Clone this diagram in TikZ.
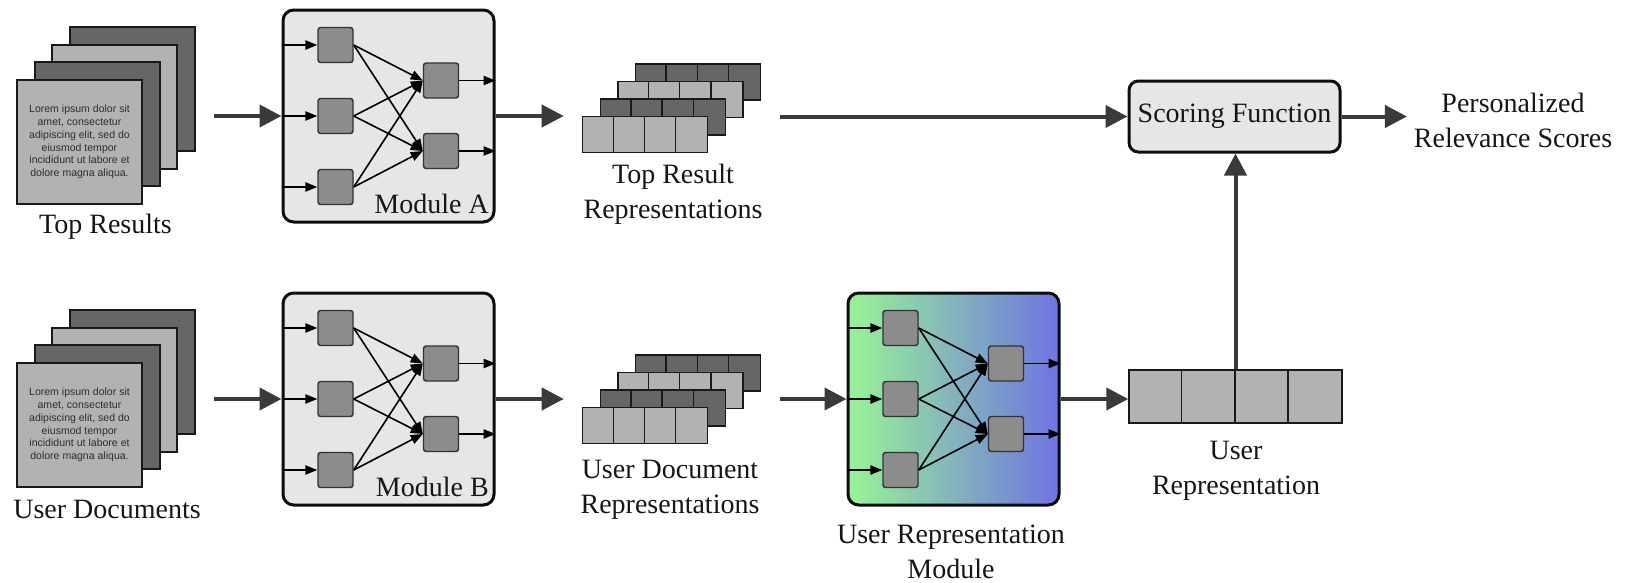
\documentclass[tikz,border=0pt]{standalone}
\usepackage{fontspec}
\setmainfont{Liberation Serif}
\newfontfamily\loremfont{Liberation Sans}
\usetikzlibrary{arrows.meta,calc,fit}

\definecolor{pagelight}{RGB}{178,178,178}
\definecolor{pagedark}{RGB}{102,102,102}
\definecolor{modfill}{RGB}{230,230,230}
\definecolor{unitfill}{RGB}{140,140,140}
\definecolor{flow}{RGB}{58,58,58}
\definecolor{inktext}{RGB}{22,22,22}
\definecolor{loremink}{RGB}{45,45,45}
\definecolor{urmgreen}{RGB}{152,244,150}
\definecolor{urmblue}{RGB}{110,116,226}

\tikzset{
  every node/.style={font=\fontsize{21pt}{26.25pt}\selectfont, text=inktext},
  label text/.style={align=center, inner sep=0pt},
  page/.style={draw=black!90, line width=1.5pt, minimum width=93.75pt,
    minimum height=93pt, inner sep=0pt},
  lorem/.style={align=center, text=loremink,
    font=\loremfont\fontsize{7.9pt}{9.6pt}\selectfont},
  repbar/.style={draw=black!90, line width=1.1pt, minimum width=93.75pt,
    minimum height=27pt, inner sep=0pt},
  repline/.style={draw=black!90, line width=1.1pt},
  modbox/.style={draw=black!95, fill=modfill, line width=2.25pt,
    rounded corners=8pt, minimum width=158.25pt, minimum height=159pt, inner sep=0pt},
  unit/.style={draw=black!80, fill=unitfill, line width=1.1pt, rounded corners=2pt,
    minimum size=26.25pt, inner sep=0pt},
  smallarrow/.style={draw=black, line width=1.2pt, -{Triangle[length=9pt,width=7pt]}},
  flowarrow/.style={draw=flow, line width=3pt, -{Triangle[length=16.5pt,width=16.5pt]}},
  scorebox/.style={draw=black!95, fill=modfill, line width=2.25pt, rounded corners=7pt,
    minimum width=158.25pt, minimum height=53.25pt, inner sep=0pt},
}

% stack of four pages, front page centred at (#2,#3)
\newcommand{\docstack}[3]{%
  \node[page, fill=pagedark]  (#1-4) at (#2+52.8,#3-52.8) {};
  \node[page, fill=pagelight] (#1-3) at (#2+35.2,#3-35.2) {};
  \node[page, fill=pagedark]  (#1-2) at (#2+17.6,#3-17.6) {};
  \node[page, fill=pagelight, lorem] (#1) at (#2,#3)
    {Lorem ipsum dolor sit\\amet, consectetur\\adipiscing elit, sed do\\eiusmod tempor\\incididunt ut labore et\\dolore magna aliqua.};
}

% stack of four vectors of four cells, front row top-left corner at (#2,#3)
\newcommand{\repstack}[3]{%
  \foreach \i/\c in {3/pagedark,2/pagelight,1/pagedark,0/pagelight} {
    \node[repbar, fill=\c, anchor=north west] (#1-r\i) at (#2+17.6*\i,#3-17.6*\i) {};
    \foreach \k in {1,2,3}
      \draw[repline] ($(#1-r\i.north west)+(31.25*\k,0)$) -- ++(0,36);
  }
  \node[fit=(#1-r0)(#1-r3), inner sep=0pt] (#1) {};
}

% small feed-forward network inside a rounded box centred at (#2,#3)
\newcommand{\netmodule}[4]{%
  \node[modbox,#4] (#1) at (#2,#3) {};
  \foreach \j/\dy in {1/-71,2/0,3/71} {
    \node[unit] (#1-l\j) at (#2-53,#3+\dy) {};
    \draw[smallarrow] (#1.west |- #1-l\j) -- (#1-l\j.west);
  }
  \foreach \j/\dy in {1/-35.5,2/35} {
    \node[unit] (#1-r\j) at (#2+52.5,#3+\dy) {};
    \draw[smallarrow] (#1-r\j.east) -- (#1.east |- #1-r\j);
  }
  \foreach \a in {1,2,3}
    \foreach \b in {1,2}
      \draw[smallarrow] (#1-l\a.east) -- (#1-r\b.west);
}

\begin{document}
\begin{tikzpicture}[x=0.75pt,y=-0.75pt]
  \fill[white] (0,0) rectangle (1628,582);
  \useasboundingbox (0,0) rectangle (1628,582);

  % ---- upper branch: top results
  \docstack{topdocs}{79.5}{142}
  \node[label text] at (105.5,227) {Top Results};

  \netmodule{modA}{388.5}{116}{}
  \node[anchor=base east, inner sep=0pt] at (489,213) {Module A};

  \repstack{topreps}{582}{116}
  \node[label text] at (673,194.5) {Top Result\\Representations};

  \node[scorebox] (scoring) at (1234.5,116.5) {Scoring Function};
  \node[label text] (pers) at (1513,120.5) {Personalized\\Relevance Scores};

  % ---- lower branch: user documents
  \docstack{userdocs}{79.5}{425}
  \node[label text] at (107,509) {User Documents};

  \netmodule{modB}{388.5}{399}{}
  \node[anchor=base east, inner sep=0pt] at (489,496) {Module B};

  \repstack{userreps}{582}{407}
  \node[label text] at (670,489.5) {User Document\\Representations};

  \netmodule{urm}{953.5}{399}{left color=urmgreen, right color=urmblue}
  \node[label text] at (951,551.5) {User Representation\\Module};

  \node[repbar, fill=pagelight, minimum width=159.75pt, minimum height=39.75pt]
    (urep) at (1235.5,396.5) {};
  \foreach \k in {1,2,3}
    \draw[repline] ($(urep.north west)+(53.25*\k,0)$) -- ++(0,53);
  \node[label text] at (1236,470.5) {User\\Representation};

  % ---- data flow
  \draw[flowarrow, shorten <=13.5pt] (topdocs-4.east |- modA.west) -- (modA.west);
  \draw[flowarrow, shorten >=13.5pt] (modA.east) -- (modA.east -| topreps.west);
  \draw[flowarrow, shorten <=13.5pt] (scoring.west -| topreps.east) -- (scoring.west);
  \draw[flowarrow, shorten >=5pt] (scoring.east) -- (scoring.east -| pers.west);

  \draw[flowarrow, shorten <=13.5pt] (userdocs-4.east |- modB.west) -- (modB.west);
  \draw[flowarrow, shorten >=13.5pt] (modB.east) -- (modB.east -| userreps.west);
  \draw[flowarrow, shorten <=13.5pt] (urm.west -| userreps.east) -- (urm.west);
  \draw[flowarrow] (urm.east) -- (urm.east -| urep.west);
  \draw[flowarrow] (urep.north) -- (urep.north |- scoring.south);
\end{tikzpicture}
\end{document}
